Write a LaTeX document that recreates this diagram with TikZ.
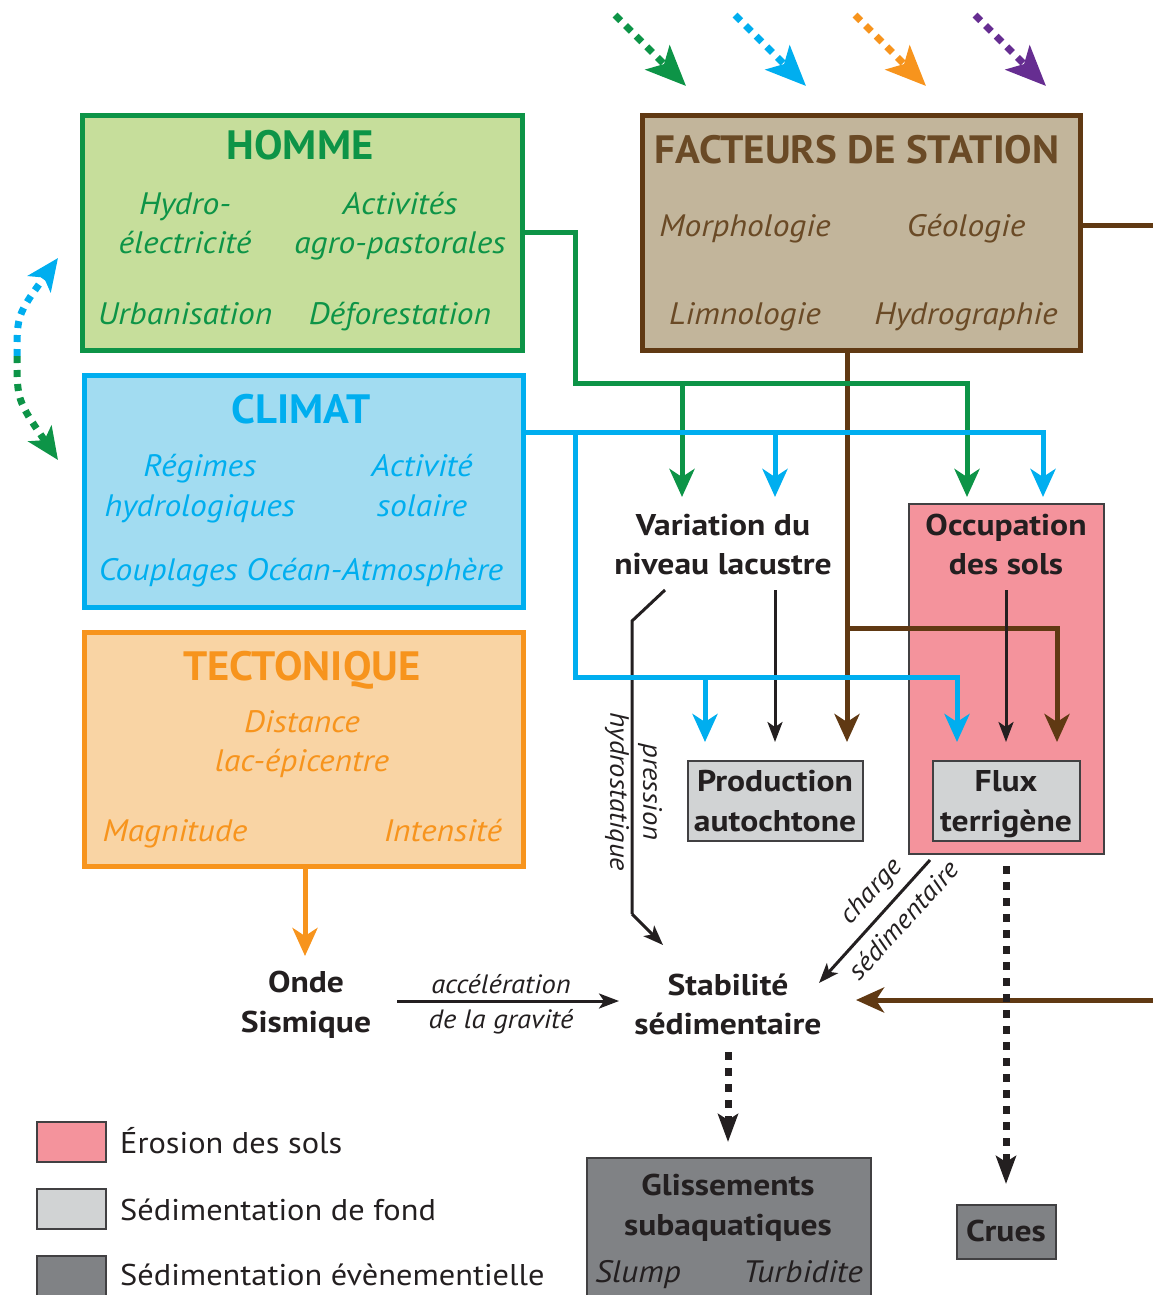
\documentclass[tikz,border=0pt]{standalone}
\usepackage{fontspec}
\setmainfont{PT Sans}[FakeStretch=1.08]
\newfontfamily\blkfont{PT Sans}[FakeStretch=1.12]
\newfontfamily\ttlfont{PT Sans}[FakeStretch=1.04]
\usetikzlibrary{arrows.meta}
\definecolor{cgreen}{HTML}{0D9447}
\definecolor{fgreen}{HTML}{C6DE9B}
\definecolor{cblue}{HTML}{00AEEF}
\definecolor{fblue}{HTML}{A2DCF1}
\definecolor{corange}{HTML}{F7941D}
\definecolor{forange}{HTML}{F9D4A4}
\definecolor{cbrown}{HTML}{603913}
\definecolor{fbrown}{HTML}{C2B59B}
\definecolor{tbrown}{HTML}{6A4A26}
\definecolor{cpurple}{HTML}{662D91}
\definecolor{fpink}{HTML}{F4939C}
\definecolor{flgrey}{HTML}{D1D3D4}
\definecolor{fdgrey}{HTML}{808285}
\definecolor{ink}{HTML}{231F20}
\definecolor{edge}{HTML}{414042}
\tikzset{
  bigbox/.style={draw, line width=5pt, inner sep=0pt, anchor=north west},
  smallbox/.style={draw=edge, line width=2pt, inner sep=0pt, anchor=north west},
  ttl/.style={font=\ttlfont\fontsize{41}{44}\selectfont\bfseries, anchor=base, inner sep=0pt},
  itm/.style={font=\fontsize{31}{40}\selectfont\itshape, anchor=base, inner sep=0pt},
  blk/.style={font=\blkfont\fontsize{30}{40}\selectfont\bfseries, text=ink, anchor=base, inner sep=0pt},
  lbl/.style={font=\fontsize{26.5}{30}\selectfont\itshape, text=ink, inner sep=0pt},
  leg/.style={font=\fontsize{30}{36}\selectfont, text=ink, anchor=base west, inner sep=0pt},
  cline/.style={line width=5pt, -{Stealth[length=28pt,width=25pt,inset=8pt]}},
  kline/.style={line width=3pt, draw=ink, -{Stealth[length=20pt,width=15pt,inset=5pt]}},
  kdot/.style={line width=7pt, draw=ink, dash pattern=on 8pt off 8pt, -{Stealth[length=28pt,width=20pt,inset=6pt]}},
  topdot/.style={line width=7pt, dash pattern=on 8pt off 7pt, -{Stealth[length=40pt,width=34pt,inset=9pt]}},
  curvdot/.style={line width=7pt, dash pattern=on 7pt off 7pt, -{Stealth[length=32pt,width=28pt,inset=8pt]}},
}
\begin{document}
\begin{tikzpicture}[x=1pt,y=-1pt]
\useasboundingbox (0,0) rectangle (1153,1295);

% ---------- big boxes
\node[bigbox, draw=cgreen, fill=fgreen, minimum width=440pt, minimum height=235pt] (homme) at (80,113) {};
\node[bigbox, draw=cblue, fill=fblue, minimum width=439pt, minimum height=232pt] (climat) at (82,373) {};
\node[bigbox, draw=corange, fill=forange, minimum width=439pt, minimum height=234pt] (tecto) at (82,630) {};
\node[bigbox, draw=cbrown, fill=fbrown, minimum width=438pt, minimum height=235pt] (fact) at (640,113) {};
\node[smallbox, fill=fpink, minimum width=195pt, minimum height=350pt] (occbox) at (908,503) {};
\node[smallbox, fill=flgrey, minimum width=175pt, minimum height=80pt] (prodbox) at (687,760) {};
\node[smallbox, fill=flgrey, minimum width=147pt, minimum height=80pt] (fluxbox) at (932,760) {};
\node[smallbox, fill=fdgrey, minimum width=284pt, minimum height=150pt] (glibox) at (586,1157) {};
\node[smallbox, fill=fdgrey, minimum width=99pt, minimum height=54pt] (cruesbox) at (956,1204) {};

% ---------- texts in boxes
\node[ttl, text=cgreen] (hT) at (300,160) {HOMME};
\node[itm, text=cgreen] (h1) at (185,214) {Hydro-};
\node[itm, text=cgreen] (h2) at (185,253) {électricité};
\node[itm, text=cgreen] (h3) at (400,214) {Activités};
\node[itm, text=cgreen] (h4) at (400,253) {agro-pastorales};
\node[itm, text=cgreen] (h5) at (185,324) {Urbanisation};
\node[itm, text=cgreen] (h6) at (400,324) {Déforestation};

\node[ttl, text=cblue] (cT) at (301,423) {CLIMAT};
\node[itm, text=cblue] (c1) at (200,476) {Régimes};
\node[itm, text=cblue] (c2) at (200,516) {hydrologiques};
\node[itm, text=cblue] (c3) at (422,476) {Activité};
\node[itm, text=cblue] (c4) at (422,516) {solaire};
\node[itm, text=cblue] (c5) at (301,580) {Couplages Océan-Atmosphère};

\node[ttl, text=corange] (tT) at (302,680) {TECTONIQUE};
\node[itm, text=corange] (t1) at (302,732) {Distance};
\node[itm, text=corange] (t2) at (302,771) {lac-épicentre};
\node[itm, text=corange] (t3) at (175,841) {Magnitude};
\node[itm, text=corange] (t4) at (443,841) {Intensité};

\node[ttl, text=tbrown, font=\ttlfont\fontsize{39.5}{44}\selectfont\bfseries] (fT) at (857,163) {FACTEURS DE STATION};
\node[itm, text=tbrown] (f1) at (745,236) {Morphologie};
\node[itm, text=tbrown] (f2) at (966,236) {Géologie};
\node[itm, text=tbrown] (f3) at (745,324) {Limnologie};
\node[itm, text=tbrown] (f4) at (966,324) {Hydrographie};

\node[blk] (v1) at (723,535) {Variation du};
\node[blk] (v2) at (723,574) {niveau lacustre};
\node[blk] (o1) at (1006,535) {Occupation};
\node[blk] (o2) at (1006,574) {des sols};
\node[blk] (p1) at (775,791) {Production};
\node[blk] (p2) at (775,831) {autochtone};
\node[blk] (x1) at (1006,791) {Flux};
\node[blk] (x2) at (1006,831) {terrigène};
\node[blk] (on1) at (306,992) {Onde};
\node[blk] (on2) at (306,1032) {Sismique};
\node[blk] (s1) at (728,995) {Stabilité};
\node[blk] (s2) at (728,1034) {sédimentaire};
\node[blk] (g1) at (728,1195) {Glissements};
\node[blk] (g2) at (728,1235) {subaquatiques};
\node[itm, text=ink] (g3) at (638,1282) {Slump};
\node[itm, text=ink] (g4) at (803,1282) {Turbidite};
\node[blk] (cr) at (1006,1241) {Crues};

% ---------- labels
\node[lbl, anchor=base] (la1) at (501,993) {accélération};
\node[lbl, anchor=base] (la2) at (501,1028) {de la gravité};
\node[lbl, rotate=-90] (lp1) at (650,792) {pression};
\node[lbl, rotate=-90] (lp2) at (617,792) {hydrostatique};
\node[lbl, rotate=47.5] (lc1) at (872,892) {charge};
\node[lbl, rotate=47.5] (lc2) at (903,920) {sédimentaire};

% ---------- legend
\node[smallbox, fill=fpink, minimum width=69pt, minimum height=40pt] (lg1) at (36,1121) {};
\node[smallbox, fill=flgrey, minimum width=69pt, minimum height=40pt] (lg2) at (36,1188) {};
\node[smallbox, fill=fdgrey, minimum width=69pt, minimum height=40pt] (lg3) at (36,1255) {};
\node[leg] (lt1) at (120,1153) {Érosion des sols};
\node[leg] (lt2) at (120,1220) {Sédimentation de fond};
\node[leg] (lt3) at (120,1285) {Sédimentation évènementielle};

% ---------- coordinates
\coordinate (hOut) at (520,232);
\coordinate (gA) at (575,232);
\coordinate (gB) at (575,383);
\coordinate (gC) at (967,383);
\coordinate (gD) at (682,383);
\coordinate (varG) at (682,497);
\coordinate (occG) at (967,497);

\coordinate (cOut) at (521,432);
\coordinate (bA) at (1043,432);
\coordinate (occB) at (1043,497);
\coordinate (bB) at (775,434);
\coordinate (varB) at (775,497);
\coordinate (bC) at (575,432);
\coordinate (bD) at (575,677);
\coordinate (bE) at (957,677);
\coordinate (fluxB) at (957,742);
\coordinate (bF) at (705,677);
\coordinate (prodB) at (705,742);

\coordinate (fOut) at (847,348);
\coordinate (prodF) at (847,742);
\coordinate (brA) at (847,628);
\coordinate (brB) at (1057,628);
\coordinate (fluxF) at (1057,742);
\coordinate (fEast) at (1078,225);
\coordinate (edgeA) at (1153,225);
\coordinate (edgeB) at (1153,1000);
\coordinate (stabF) at (856,1000);

\coordinate (varOut) at (775,590);
\coordinate (prodK) at (775,742);
\coordinate (occOut) at (1006,590);
\coordinate (fluxK) at (1006,742);
\coordinate (pA) at (665,590);
\coordinate (pB) at (632,621);
\coordinate (pC) at (632,914);
\coordinate (stabP) at (663,945);
\coordinate (chA) at (930,860);
\coordinate (stabC) at (819,983);
\coordinate (ondeOut) at (397,1001);
\coordinate (stabA) at (619,1001);
\coordinate (stabOut) at (728,1052);
\coordinate (gliIn) at (728,1142);
\coordinate (fluxOut) at (1006,866);
\coordinate (cruesIn) at (1006,1184);
\coordinate (tecOut) at (305,866);
\coordinate (ondeIn) at (305,956);

% ---------- connectors
\draw[kline, -] (pA) -- (pB) -- (pC);
\draw[kline] (pC) -- (stabP);
\draw[kline] (varOut) -- (prodK);
\draw[cline, cbrown, -] (fOut) -- (brA);
\draw[cline, cbrown] (brA) -- (prodF);
\draw[cline, cgreen] (hOut) -- (gA) -- (gB) -- (gC) -- (occG);
\draw[cline, cgreen] (gD) -- (varG);
\draw[cline, cblue] (cOut) -- (bA) -- (occB);
\draw[cline, cblue] (bB) -- (varB);
\draw[cline, cblue] (bC) -- (bD) -- (bE) -- (fluxB);
\draw[cline, cblue] (bF) -- (prodB);
\draw[cline, cbrown] (brA) -- (brB) -- (fluxF);
\draw[kline] (occOut) -- (fluxK);
\draw[line width=5pt, cbrown] (fEast) -- (edgeA);
\draw[cline, cbrown] (edgeB) -- (stabF);
\draw[kline] (chA) -- (stabC);
\draw[kline] (ondeOut) -- (stabA);
\draw[kdot] (stabOut) -- (gliIn);
\draw[kdot] (fluxOut) -- (cruesIn);
\draw[cline, corange] (tecOut) -- (ondeIn);

% ---------- top diagonal arrows
\coordinate (d1a) at (615,15);  \coordinate (d1b) at (686,86);
\coordinate (d2a) at (735,15);  \coordinate (d2b) at (806,86);
\coordinate (d3a) at (855,15);  \coordinate (d3b) at (926,86);
\coordinate (d4a) at (975,15);  \coordinate (d4b) at (1046,86);
\draw[topdot, cgreen] (d1a) -- (d1b);
\draw[topdot, cblue] (d2a) -- (d2b);
\draw[topdot, corange] (d3a) -- (d3b);
\draw[topdot, cpurple] (d4a) -- (d4b);

% ---------- left curved arrow
\coordinate (cvM) at (17,356);
\coordinate (cvT) at (58,258);
\coordinate (cvB) at (58,460);
\draw[curvdot, cblue] (cvM) .. controls (17,315) .. (cvT);
\draw[curvdot, cgreen] (cvM) .. controls (17,400) .. (cvB);
\end{tikzpicture}
\end{document}
